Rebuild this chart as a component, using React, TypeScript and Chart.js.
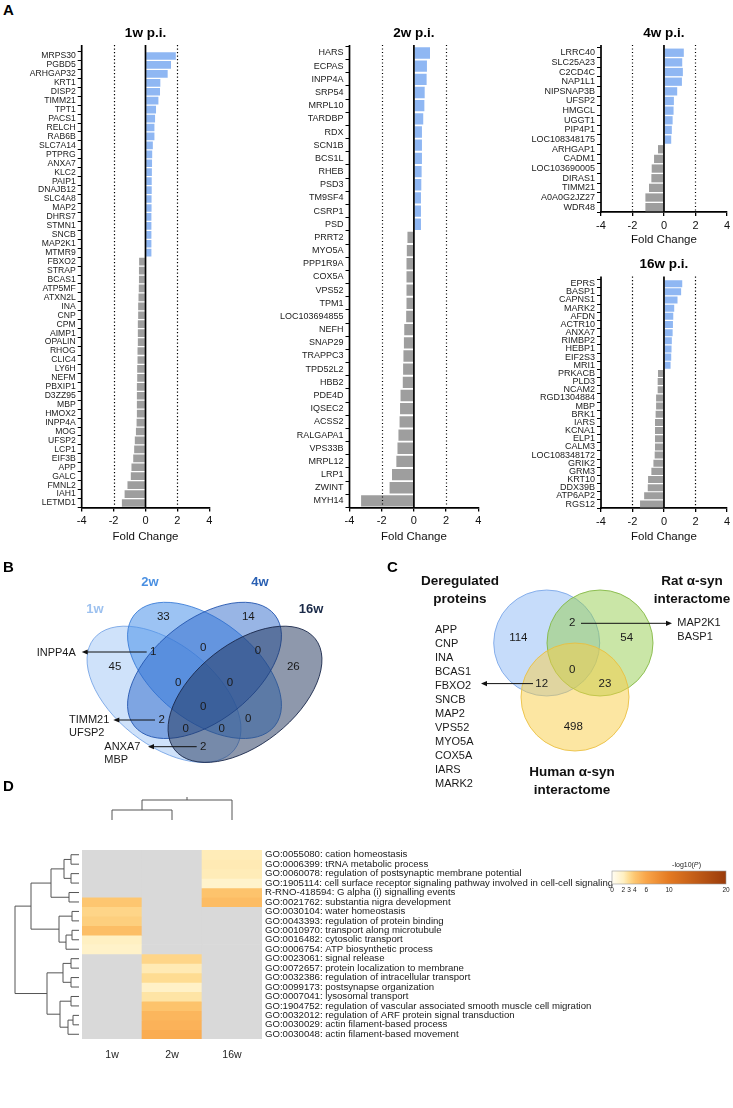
import React, { useEffect, useRef } from 'react';
import { Chart, registerables } from 'chart.js';
Chart.register(...registerables);

const FONT = '"Liberation Sans", Arial, Helvetica, sans-serif';
const BLUE = '#8fb7f3';
const GRAY = '#9e9e9e';

// ---------------- Panel A data ----------------
const labels1w = ['MRPS30','PGBD5','ARHGAP32','KRT1','DISP2','TIMM21','TPT1','PACS1','RELCH','RAB6B','SLC7A14','PTPRG','ANXA7','KLC2','PAIP1','DNAJB12','SLC4A8','MAP2','DHRS7','STMN1','SNCB','MAP2K1','MTMR9','FBXO2','STRAP','BCAS1','ATP5MF','ATXN2L','INA','CNP','CPM','AIMP1','OPALIN','RHOG','CLIC4','LY6H','NEFM','PBXIP1','D3ZZ95','MBP','HMOX2','INPP4A','MOG','UFSP2','LCP1','EIF3B','APP','GALC','FMNL2','IAH1','LETMD1'];
const values1w = [1.90,1.60,1.39,0.93,0.91,0.81,0.66,0.60,0.56,0.56,0.46,0.42,0.41,0.40,0.39,0.39,0.38,0.38,0.37,0.37,0.37,0.37,0.37,-0.40,-0.41,-0.41,-0.42,-0.44,-0.46,-0.46,-0.48,-0.48,-0.48,-0.50,-0.50,-0.52,-0.52,-0.54,-0.54,-0.54,-0.54,-0.56,-0.60,-0.67,-0.71,-0.77,-0.88,-0.92,-1.13,-1.31,-1.48];

const labels2w = ['HARS','ECPAS','INPP4A','SRP54','MRPL10','TARDBP','RDX','SCN1B','BCS1L','RHEB','PSD3','TM9SF4','CSRP1','PSD','PRRT2','MYO5A','PPP1R9A','COX5A','VPS52','TPM1','LOC103694855','NEFH','SNAP29','TRAPPC3','TPD52L2','HBB2','PDE4D','IQSEC2','ACSS2','RALGAPA1','VPS33B','MRPL12','LRP1','ZWINT','MYH14'];
const values2w = [1.0,0.81,0.79,0.67,0.65,0.58,0.50,0.50,0.50,0.48,0.46,0.44,0.44,0.44,-0.40,-0.44,-0.46,-0.46,-0.46,-0.46,-0.48,-0.60,-0.62,-0.65,-0.67,-0.69,-0.83,-0.86,-0.89,-0.96,-1.02,-1.09,-1.36,-1.51,-3.28];

const labels4w = ['LRRC40','SLC25A23','C2CD4C','NAP1L1','NIPSNAP3B','UFSP2','HMGCL','UGGT1','PIP4P1','LOC108348175','ARHGAP1','CADM1','LOC103690005','DIRAS1','TIMM21','A0A0G2JZ27','WDR48'];
const values4w = [1.26,1.16,1.20,1.14,0.84,0.63,0.61,0.55,0.50,0.46,-0.38,-0.63,-0.78,-0.80,-0.95,-1.18,-1.18];

const labels16w = ['EPRS','BASP1','CAPNS1','MARK2','AFDN','ACTR10','ANXA7','RIMBP2','HEBP1','EIF2S3','MRI1','PRKACB','PLD3','NCAM2','RGD1304884','MBP','BRK1','IARS','KCNA1','ELP1','CALM3','LOC108348172','GRIK2','GRM3','KRT10','DDX39B','ATP6AP2','RGS12'];
const values16w = [1.16,1.09,0.86,0.65,0.59,0.57,0.55,0.50,0.48,0.46,0.42,-0.38,-0.40,-0.40,-0.50,-0.50,-0.53,-0.57,-0.57,-0.57,-0.57,-0.59,-0.67,-0.80,-1.01,-1.03,-1.26,-1.52];

const foldTicks = [-4, -2, 0, 2, 4];
const refLinesAt = [-2, 2];

// ---------------- Panel B data ----------------
const vennBSets = ['1w', '2w', '4w', '16w'];
// regions: 1w,2w,4w,16w, 1w∩2w, 2w∩4w, 4w∩16w, 1w∩2w∩4w, 2w∩4w∩16w, all, 1w∩4w, 2w∩16w, 1w∩2w∩16w, 1w∩4w∩16w, 1w∩16w
const vennBCounts = [45, 33, 14, 26, 1, 0, 0, 0, 0, 0, 2, 0, 0, 0, 2];
const vennBNotes = [['INPP4A'], ['TIMM21', 'UFSP2'], ['ANXA7', 'MBP']];

// ---------------- Panel C data ----------------
const vennCSets = [['Deregulated', 'proteins'], ['Rat α-syn', 'interactome'], ['Human α-syn', 'interactome']];
// regions: Dereg, Rat, Human, Dereg∩Rat, Dereg∩Human, Rat∩Human, all
const vennCCounts = [114, 54, 498, 2, 12, 23, 0];
const vennCDeregHuman = ['APP', 'CNP', 'INA', 'BCAS1', 'FBXO2', 'SNCB', 'MAP2', 'VPS52', 'MYO5A', 'COX5A', 'IARS', 'MARK2'];
const vennCDeregRat = ['MAP2K1', 'BASP1'];

// ---------------- Panel D data ----------------
const heatCols = ['1w', '2w', '16w'];
const heatRows = [
  'GO:0055080: cation homeostasis',
  'GO:0006399: tRNA metabolic process',
  'GO:0060078: regulation of postsynaptic membrane potential',
  'GO:1905114: cell surface receptor signaling pathway involved in cell-cell signaling',
  'R-RNO-418594: G alpha (i) signalling events',
  'GO:0021762: substantia nigra development',
  'GO:0030104: water homeostasis',
  'GO:0043393: regulation of protein binding',
  'GO:0010970: transport along microtubule',
  'GO:0016482: cytosolic transport',
  'GO:0006754: ATP biosynthetic process',
  'GO:0023061: signal release',
  'GO:0072657: protein localization to membrane',
  'GO:0032386: regulation of intracellular transport',
  'GO:0099173: postsynapse organization',
  'GO:0007041: lysosomal transport',
  'GO:1904752: regulation of vascular associated smooth muscle cell migration',
  'GO:0032012: regulation of ARF protein signal transduction',
  'GO:0030029: actin filament-based process',
  'GO:0030048: actin filament-based movement',
];
const heat1w = [null, null, null, null, null, 4.0, 3.3, 3.6, 4.5, 2.0, 1.7, null, null, null, null, null, null, null, null, null];
const heat2w = [null, null, null, null, null, null, null, null, null, null, null, 3.3, 2.3, 3.0, 1.8, 2.6, 4.2, 5.0, 5.2, 5.6];
const heat16w = [2.2, 2.3, 2.2, 1.6, 4.2, 4.6, null, null, null, null, null, null, null, null, null, null, null, null, null, null];
const heatLegendTicks = [0, 2, 3, 4, 6, 10, 20];
const heatColorStops: [number, string][] = [[0, '#fffdf3'], [2, '#fff0c2'], [3, '#fedc92'], [4, '#fdc670'], [6, '#f9a549'], [10, '#e47a22'], [20, '#9a3b0b']];
// dendrogram merges: [a, b, height]; leaves 0..19, new nodes from 20
const rowMerges: [number, number, number][] = [
  [0, 1, 8], [2, 3, 8], [20, 21, 15], [4, 5, 10], [22, 23, 28],
  [6, 7, 7], [8, 9, 7], [26, 10, 13], [25, 27, 20], [24, 28, 48],
  [11, 12, 8], [13, 14, 8], [30, 31, 16], [15, 16, 8], [17, 18, 6], [34, 19, 11], [33, 35, 19], [32, 36, 32],
  [29, 37, 64],
];
const colMerges: [number, number, number][] = [[0, 1, 10], [3, 2, 20]];

// ---------------- helpers ----------------
function hexToRgb(h: string) {
  const n = parseInt(h.slice(1), 16);
  return [(n >> 16) & 255, (n >> 8) & 255, n & 255];
}
function heatColor(v: number | null) {
  if (v === null || v === undefined) return '#d9d9d9';
  const s = heatColorStops;
  if (v <= s[0][0]) return s[0][1];
  for (let i = 1; i < s.length; i++) {
    if (v <= s[i][0]) {
      const t = (v - s[i - 1][0]) / (s[i][0] - s[i - 1][0]);
      const a = hexToRgb(s[i - 1][1]);
      const b = hexToRgb(s[i][1]);
      const c = a.map((x, k) => Math.round(x + (b[k] - x) * t));
      return `rgb(${c[0]},${c[1]},${c[2]})`;
    }
  }
  return s[s.length - 1][1];
}

function line(ctx: CanvasRenderingContext2D, x1: number, y1: number, x2: number, y2: number) {
  ctx.beginPath();
  ctx.moveTo(x1, y1);
  ctx.lineTo(x2, y2);
  ctx.stroke();
}
function arrow(ctx: CanvasRenderingContext2D, x1: number, y1: number, x2: number, y2: number) {
  ctx.strokeStyle = '#111';
  ctx.fillStyle = '#111';
  ctx.lineWidth = 1;
  const dir = Math.sign(x2 - x1);
  line(ctx, x1, y1, x2 - dir * 4, y2);
  ctx.beginPath();
  ctx.moveTo(x2, y2);
  ctx.lineTo(x2 - dir * 6, y2 - 2.6);
  ctx.lineTo(x2 - dir * 6, y2 + 2.6);
  ctx.closePath();
  ctx.fill();
}

function ChartCanvas(props: { left: number; top: number; width: number; height: number; make: (c: HTMLCanvasElement) => Chart }) {
  const ref = useRef<HTMLCanvasElement>(null);
  useEffect(() => {
    const chart = props.make(ref.current as HTMLCanvasElement);
    return () => chart.destroy();
  }, []);
  return (
    <canvas
      ref={ref}
      width={props.width}
      height={props.height}
      style={{ position: 'absolute', left: props.left, top: props.top, width: props.width, height: props.height }}
    />
  );
}

// ---------------- Panel A ----------------
type BarSpec = {
  left: number; top: number; width: number; height: number;
  labels: string[]; values: number[]; title: string; titleY: number;
  yAxisW: number; padTop: number; padRight: number; xAxisH: number; ext: number; labelSize: number; foldPad: number;
};

function makeBarChart(spec: BarSpec) {
  return (canvas: HTMLCanvasElement) => {
    const plugin = {
      id: 'refLines' + spec.title,
      afterDatasetsDraw(chart: any) {
        const { ctx, chartArea: a, scales } = chart;
        const x = scales.x;
        const y0 = a.top - spec.ext;
        ctx.save();
        ctx.strokeStyle = '#000';
        ctx.lineWidth = 1.2;
        ctx.setLineDash([1.2, 2.3]);
        for (const v of refLinesAt) {
          const px = Math.round(x.getPixelForValue(v)) + 0.5;
          line(ctx, px, y0, px, a.bottom);
        }
        ctx.setLineDash([]);
        ctx.lineWidth = 1.7;
        const zx = x.getPixelForValue(0);
        line(ctx, zx, y0, zx, a.bottom);
        line(ctx, a.left, y0, a.left, a.bottom + 0.8);
        ctx.fillStyle = '#000';
        ctx.font = `bold 13.5px ${FONT}`;
        ctx.textAlign = 'center';
        ctx.textBaseline = 'middle';
        ctx.fillText(spec.title, (a.left + a.right) / 2, spec.titleY - spec.top);
        ctx.restore();
      },
    };
    return new Chart(canvas, {
      type: 'bar',
      data: {
        labels: spec.labels,
        datasets: [{
          data: spec.values,
          backgroundColor: spec.values.map((v) => (v >= 0 ? BLUE : GRAY)),
          borderWidth: 0,
          barPercentage: 0.86,
          categoryPercentage: 1,
        }],
      },
      options: {
        indexAxis: 'y',
        responsive: false,
        animation: false,
        layout: { padding: { top: spec.padTop, right: spec.padRight, left: 0, bottom: 0 } },
        plugins: { legend: { display: false }, tooltip: { enabled: false }, title: { display: false } },
        scales: {
          x: {
            type: 'linear', min: -4, max: 4,
            afterBuildTicks: (s: any) => { s.ticks = foldTicks.map((v) => ({ value: v })); },
            ticks: { font: { family: FONT, size: 11 }, color: '#111', padding: 3, maxRotation: 0 },
            grid: { drawOnChartArea: false, drawTicks: true, tickLength: 4, color: '#000', lineWidth: 1.3 },
            border: { display: true, color: '#000', width: 1.7 },
            title: { display: true, text: 'Fold Change', font: { family: FONT, size: 11.5 }, color: '#111', padding: { top: 0, bottom: spec.foldPad } },
            afterFit: (s: any) => { s.height = spec.xAxisH; },
          },
          y: {
            type: 'category',
            ticks: { font: { family: FONT, size: spec.labelSize }, color: '#1a1a1a', padding: 2, autoSkip: false },
            grid: { drawOnChartArea: false, drawTicks: true, tickLength: 4, color: '#000', lineWidth: 1 },
            border: { display: false },
            afterFit: (s: any) => { s.width = spec.yAxisW; },
          },
        },
      } as any,
      plugins: [plugin],
    });
  };
}

const barSpecs: BarSpec[] = [
  { left: 0, top: 20, width: 220, height: 528, labels: labels1w, values: values1w, title: '1w p.i.', titleY: 33.3, yAxisW: 81.7, padTop: 31.5, padRight: 10.7, xAxisH: 40.5, ext: 6.5, labelSize: 8.6, foldPad: 4.7 },
  { left: 270, top: 20, width: 220, height: 528, labels: labels2w, values: values2w, title: '2w p.i.', titleY: 33.3, yAxisW: 79.5, padTop: 26.4, padRight: 11.7, xAxisH: 40.5, ext: 1.5, labelSize: 9, foldPad: 4.7 },
  { left: 505, top: 20, width: 228, height: 232, labels: labels4w, values: values4w, title: '4w p.i.', titleY: 33.3, yAxisW: 96, padTop: 27.9, padRight: 5.5, xAxisH: 40, ext: 3, labelSize: 9, foldPad: 5.2 },
  { left: 505, top: 250, width: 228, height: 298, labels: labels16w, values: values16w, title: '16w p.i.', titleY: 264.3, yAxisW: 96, padTop: 29.6, padRight: 5.5, xAxisH: 39.9, ext: 3, labelSize: 9, foldPad: 4.7 },
];

// ---------------- Panel B ----------------
const B_BOX = { left: 0, top: 560, width: 370, height: 232 };
const B_COUNT_POS = [
  [115, 666.7], [163.3, 616.7], [248.3, 616.7], [293.3, 666.7], [153.3, 651.7], [203.3, 648.3], [258, 651],
  [178.3, 683.3], [230, 683.3], [203.3, 706.7], [161.7, 720], [248.3, 719], [221.7, 729], [185.7, 729], [203.3, 746.7],
];
const B_ELLIPSES = [
  { cx: 164, cy: 694.3, rot: 1, fill: 'rgba(140,186,242,0.42)', stroke: 'rgba(120,165,230,0.9)' },
  { cx: 204.5, cy: 670.4, rot: 1, fill: 'rgba(74,145,233,0.55)', stroke: 'rgba(60,125,215,0.9)' },
  { cx: 204.5, cy: 670.4, rot: -1, fill: 'rgba(40,100,200,0.48)', stroke: 'rgba(35,85,175,0.9)' },
  { cx: 245, cy: 694.3, rot: -1, fill: 'rgba(30,50,90,0.5)', stroke: 'rgba(25,40,75,0.9)' },
];
const B_SET_LABELS = [
  { x: 95, y: 609, color: '#9dc1ef' }, { x: 150, y: 582, color: '#4a90e2' },
  { x: 260, y: 582, color: '#2a60b3' }, { x: 311, y: 609, color: '#1a2a48' },
];
const B_NOTES = [
  { region: 4, from: [146.7, 652], to: [81.7, 652], textX: 36.7, textY: 652.7 },
  { region: 10, from: [155, 720], to: [113.3, 720], textX: 69, textY: 720 },
  { region: 14, from: [196.7, 746.7], to: [148, 746.7], textX: 104.3, textY: 746.7 },
];

function makeVennB(canvas: HTMLCanvasElement) {
  const plugin = {
    id: 'vennB',
    beforeDatasetsDraw(chart: any) {
      const { ctx, scales: { x, y } } = chart;
      ctx.save();
      for (const e of B_ELLIPSES) {
        const px = x.getPixelForValue(e.cx);
        const py = y.getPixelForValue(e.cy);
        const ux = x.getPixelForValue(1) - x.getPixelForValue(0);
        const uy = y.getPixelForValue(1) - y.getPixelForValue(0);
        ctx.save();
        ctx.translate(px, py);
        ctx.scale(270 * ux, 239 * uy);
        ctx.rotate((e.rot * Math.PI) / 4);
        ctx.beginPath();
        ctx.ellipse(0, 0, 0.35, 0.2, 0, 0, Math.PI * 2);
        ctx.restore();
        ctx.fillStyle = e.fill;
        ctx.fill();
        ctx.strokeStyle = e.stroke;
        ctx.lineWidth = 1;
        ctx.stroke();
      }
      ctx.restore();
    },
    afterDatasetsDraw(chart: any) {
      const { ctx, scales: { x, y } } = chart;
      const meta = chart.getDatasetMeta(0);
      ctx.save();
      ctx.textBaseline = 'middle';
      ctx.textAlign = 'center';
      ctx.fillStyle = '#1a1a1a';
      ctx.font = `11.5px ${FONT}`;
      meta.data.forEach((pt: any, i: number) => ctx.fillText(String(vennBCounts[i]), pt.x, pt.y));
      ctx.font = `bold 13px ${FONT}`;
      vennBSets.forEach((s, i) => {
        ctx.fillStyle = B_SET_LABELS[i].color;
        ctx.fillText(s, x.getPixelForValue(B_SET_LABELS[i].x), y.getPixelForValue(B_SET_LABELS[i].y));
      });
      ctx.font = `11px ${FONT}`;
      ctx.textAlign = 'left';
      B_NOTES.forEach((n, i) => {
        arrow(ctx, x.getPixelForValue(n.from[0]), y.getPixelForValue(n.from[1]), x.getPixelForValue(n.to[0]), y.getPixelForValue(n.to[1]));
        ctx.fillStyle = '#1a1a1a';
        vennBNotes[i].forEach((name, k) => {
          ctx.fillText(name, x.getPixelForValue(n.textX), y.getPixelForValue(n.textY + k * 13.4));
        });
      });
      ctx.restore();
    },
  };
  return new Chart(canvas, {
    type: 'scatter',
    data: { datasets: [{ data: vennBCounts.map((_, i) => ({ x: B_COUNT_POS[i][0], y: B_COUNT_POS[i][1] })), pointRadius: 0 }] },
    options: {
      responsive: false, animation: false,
      layout: { padding: 0 },
      plugins: { legend: { display: false }, tooltip: { enabled: false } },
      scales: {
        x: { type: 'linear', display: false, min: B_BOX.left, max: B_BOX.left + B_BOX.width },
        y: { type: 'linear', display: false, min: B_BOX.top, max: B_BOX.top + B_BOX.height, reverse: true },
      },
    } as any,
    plugins: [plugin],
  });
}

// ---------------- Panel C ----------------
const C_BOX = { left: 365, top: 560, width: 368, height: 240 };
const C_COUNT_POS = [[518.3, 637.7], [626.7, 637.7], [573.3, 727.3], [572.3, 623.3], [541.7, 684], [605, 684], [572.3, 670]];
const C_CIRCLES = [
  { cx: 546.7, cy: 643, r: 53, fill: 'rgba(128,178,245,0.45)', stroke: 'rgba(120,165,232,0.85)' },
  { cx: 600, cy: 643, r: 53, fill: 'rgba(150,205,80,0.5)', stroke: 'rgba(128,182,62,0.85)' },
  { cx: 575, cy: 697, r: 54, fill: 'rgba(250,205,70,0.5)', stroke: 'rgba(234,190,62,0.85)' },
];
const C_SET_LABELS = [{ x: 460, y: 581 }, { x: 692, y: 581 }, { x: 572, y: 772.3 }];

function makeVennC(canvas: HTMLCanvasElement) {
  const plugin = {
    id: 'vennC',
    beforeDatasetsDraw(chart: any) {
      const { ctx, scales: { x, y } } = chart;
      ctx.save();
      for (const c of C_CIRCLES) {
        const r = c.r * (x.getPixelForValue(1) - x.getPixelForValue(0));
        ctx.beginPath();
        ctx.arc(x.getPixelForValue(c.cx), y.getPixelForValue(c.cy), r, 0, Math.PI * 2);
        ctx.fillStyle = c.fill;
        ctx.fill();
        ctx.strokeStyle = c.stroke;
        ctx.lineWidth = 1;
        ctx.stroke();
      }
      ctx.restore();
    },
    afterDatasetsDraw(chart: any) {
      const { ctx, scales: { x, y } } = chart;
      const meta = chart.getDatasetMeta(0);
      ctx.save();
      ctx.textBaseline = 'middle';
      ctx.textAlign = 'center';
      ctx.fillStyle = '#1a1a1a';
      ctx.font = `11.5px ${FONT}`;
      meta.data.forEach((pt: any, i: number) => ctx.fillText(String(vennCCounts[i]), pt.x, pt.y));
      ctx.font = `bold 13.5px ${FONT}`;
      ctx.fillStyle = '#111';
      vennCSets.forEach((lines, i) => {
        lines.forEach((t, k) => ctx.fillText(t, x.getPixelForValue(C_SET_LABELS[i].x), y.getPixelForValue(C_SET_LABELS[i].y + k * 18)));
      });
      ctx.font = `11px ${FONT}`;
      ctx.textAlign = 'left';
      ctx.fillStyle = '#1a1a1a';
      vennCDeregHuman.forEach((t, k) => ctx.fillText(t, x.getPixelForValue(435), y.getPixelForValue(630 + k * 14)));
      vennCDeregRat.forEach((t, k) => ctx.fillText(t, x.getPixelForValue(677.3), y.getPixelForValue(623.3 + k * 13.4)));
      arrow(ctx, x.getPixelForValue(533), y.getPixelForValue(683.6), x.getPixelForValue(481), y.getPixelForValue(683.6));
      arrow(ctx, x.getPixelForValue(581), y.getPixelForValue(623.3), x.getPixelForValue(672), y.getPixelForValue(623.3));
      ctx.restore();
    },
  };
  return new Chart(canvas, {
    type: 'scatter',
    data: { datasets: [{ data: vennCCounts.map((_, i) => ({ x: C_COUNT_POS[i][0], y: C_COUNT_POS[i][1] })), pointRadius: 0 }] },
    options: {
      responsive: false, animation: false,
      layout: { padding: 0 },
      plugins: { legend: { display: false }, tooltip: { enabled: false } },
      scales: {
        x: { type: 'linear', display: false, min: C_BOX.left, max: C_BOX.left + C_BOX.width },
        y: { type: 'linear', display: false, min: C_BOX.top, max: C_BOX.top + C_BOX.height, reverse: true },
      },
    } as any,
    plugins: [plugin],
  });
}

// ---------------- Panel D ----------------
const D_BOX = { left: 0, top: 790, width: 733, height: 290 };
const D_HEAT = { left: 82, right: 262, top: 850, bottom: 1039 };

function makeHeatmap(canvas: HTMLCanvasElement) {
  const heatValues = [heat1w, heat2w, heat16w];
  const plugin = {
    id: 'dendro',
    afterDraw(chart: any) {
      const { ctx, chartArea: a, scales } = chart;
      const yl = scales.yLab;
      const xs = scales.x;
      ctx.save();
      ctx.strokeStyle = '#555';
      ctx.lineWidth = 1;
      // row dendrogram
      const pos: number[] = heatRows.map((_, i) => yl.getPixelForValue(i));
      const hx: number[] = heatRows.map(() => a.left - 3);
      rowMerges.forEach(([p, q, h]) => {
        const xh = a.left - 3 - h;
        line(ctx, hx[p], pos[p], xh, pos[p]);
        line(ctx, hx[q], pos[q], xh, pos[q]);
        line(ctx, xh, pos[p], xh, pos[q]);
        pos.push((pos[p] + pos[q]) / 2);
        hx.push(xh);
      });
      // column dendrogram
      const leafY = a.top - 30;
      const cpos: number[] = heatCols.map((_, i) => xs.getPixelForValue(i));
      const cy: number[] = heatCols.map(() => leafY);
      colMerges.forEach(([p, q, h]) => {
        const yh = leafY - h;
        line(ctx, cpos[p], cy[p], cpos[p], yh);
        line(ctx, cpos[q], cy[q], cpos[q], yh);
        line(ctx, cpos[p], yh, cpos[q], yh);
        cpos.push((cpos[p] + cpos[q]) / 2);
        cy.push(yh);
      });
      const last = cpos.length - 1;
      line(ctx, cpos[last], cy[last], cpos[last], cy[last] - 3);
      ctx.restore();
    },
  };
  return new Chart(canvas, {
    type: 'bar',
    data: {
      labels: heatCols,
      datasets: heatRows.map((_, r) => ({
        data: heatCols.map(() => 1),
        backgroundColor: heatCols.map((__, c) => heatColor(heatValues[c][r])),
        borderWidth: 0,
        barPercentage: 1,
        categoryPercentage: 1,
        stack: 'cells',
      })),
    },
    options: {
      responsive: false, animation: false,
      layout: { padding: { left: D_HEAT.left - D_BOX.left, top: D_HEAT.top - D_BOX.top, right: 0, bottom: 0 } },
      plugins: { legend: { display: false }, tooltip: { enabled: false } },
      scales: {
        x: {
          type: 'category', stacked: true,
          grid: { display: false, drawTicks: false }, border: { display: false },
          ticks: { font: { family: FONT, size: 10.5 }, color: '#222', padding: 10 },
          afterFit: (s: any) => { s.height = D_BOX.top + D_BOX.height - D_HEAT.bottom; },
        },
        y: { type: 'linear', stacked: true, min: 0, max: heatRows.length, reverse: true, display: false },
        yLab: {
          type: 'category', labels: heatRows, position: 'right', offset: true,
          grid: { display: false, drawTicks: false }, border: { display: false },
          ticks: { font: { family: FONT, size: 9.6 }, color: '#1a1a1a', padding: 3, autoSkip: false },
          afterFit: (s: any) => { s.width = D_BOX.left + D_BOX.width - D_HEAT.right; },
        },
      },
    } as any,
    plugins: [plugin],
  });
}

const L_BOX = { left: 595, top: 855, width: 138, height: 46 };
const L_BAR = { left: 612, right: 726, top: 871, bottom: 884 };
function makeLegend(canvas: HTMLCanvasElement) {
  const plugin = {
    id: 'grad',
    beforeDatasetsDraw(chart: any) {
      const { ctx, chartArea: a, scales: { x } } = chart;
      ctx.save();
      const g = ctx.createLinearGradient(x.getPixelForValue(0), 0, x.getPixelForValue(20), 0);
      heatColorStops.forEach(([v, c]) => g.addColorStop(v / 20, c));
      ctx.fillStyle = g;
      ctx.fillRect(a.left, a.top, a.right - a.left, a.bottom - a.top);
      ctx.strokeStyle = '#999';
      ctx.lineWidth = 0.6;
      ctx.strokeRect(a.left, a.top, a.right - a.left, a.bottom - a.top);
      ctx.fillStyle = '#222';
      ctx.font = `7px ${FONT}`;
      ctx.textAlign = 'center';
      ctx.textBaseline = 'middle';
      ctx.fillText('-log10(', 683 - L_BOX.left, 865 - L_BOX.top);
      ctx.font = `italic 7px ${FONT}`;
      ctx.fillText('P', 696 - L_BOX.left, 865 - L_BOX.top);
      ctx.font = `7px ${FONT}`;
      ctx.fillText(')', 700 - L_BOX.left, 865 - L_BOX.top);
      ctx.restore();
    },
  };
  return new Chart(canvas, {
    type: 'scatter',
    data: { datasets: [{ data: [], pointRadius: 0 }] },
    options: {
      responsive: false, animation: false,
      layout: { padding: { left: L_BAR.left - L_BOX.left, right: L_BOX.left + L_BOX.width - L_BAR.right, top: L_BAR.top - L_BOX.top, bottom: 0 } },
      plugins: { legend: { display: false }, tooltip: { enabled: false } },
      scales: {
        x: {
          type: 'linear', min: 0, max: 20,
          afterBuildTicks: (s: any) => { s.ticks = heatLegendTicks.map((v) => ({ value: v })); },
          ticks: { font: { family: FONT, size: 6.5 }, color: '#222', padding: 2, maxRotation: 0, autoSkip: false },
          grid: { display: false, drawTicks: false }, border: { display: false },
          afterFit: (s: any) => { s.height = L_BOX.top + L_BOX.height - L_BAR.bottom; },
        },
        y: { type: 'linear', display: false, min: 0, max: 1 },
      },
    } as any,
    plugins: [plugin],
  });
}

const letterStyle = (left: number, top: number): React.CSSProperties => ({
  position: 'absolute', left, top, fontFamily: FONT, fontWeight: 'bold', fontSize: 15, lineHeight: '16px', color: '#000',
});

export default function App() {
  return (
    <div style={{ position: 'absolute', left: 0, top: 0, width: 733, height: 1108, background: '#fff', overflow: 'hidden' }}>
      {barSpecs.map((s) => (
        <ChartCanvas key={s.title} left={s.left} top={s.top} width={s.width} height={s.height} make={makeBarChart(s)} />
      ))}
      <ChartCanvas left={B_BOX.left} top={B_BOX.top} width={B_BOX.width} height={B_BOX.height} make={makeVennB} />
      <ChartCanvas left={C_BOX.left} top={C_BOX.top} width={C_BOX.width} height={C_BOX.height} make={makeVennC} />
      <ChartCanvas left={D_BOX.left} top={D_BOX.top} width={D_BOX.width} height={D_BOX.height} make={makeHeatmap} />
      <ChartCanvas left={L_BOX.left} top={L_BOX.top} width={L_BOX.width} height={L_BOX.height} make={makeLegend} />
      <div style={letterStyle(3, 2)}>A</div>
      <div style={letterStyle(3, 559)}>B</div>
      <div style={letterStyle(387, 559)}>C</div>
      <div style={letterStyle(3, 778)}>D</div>
    </div>
  );
}
